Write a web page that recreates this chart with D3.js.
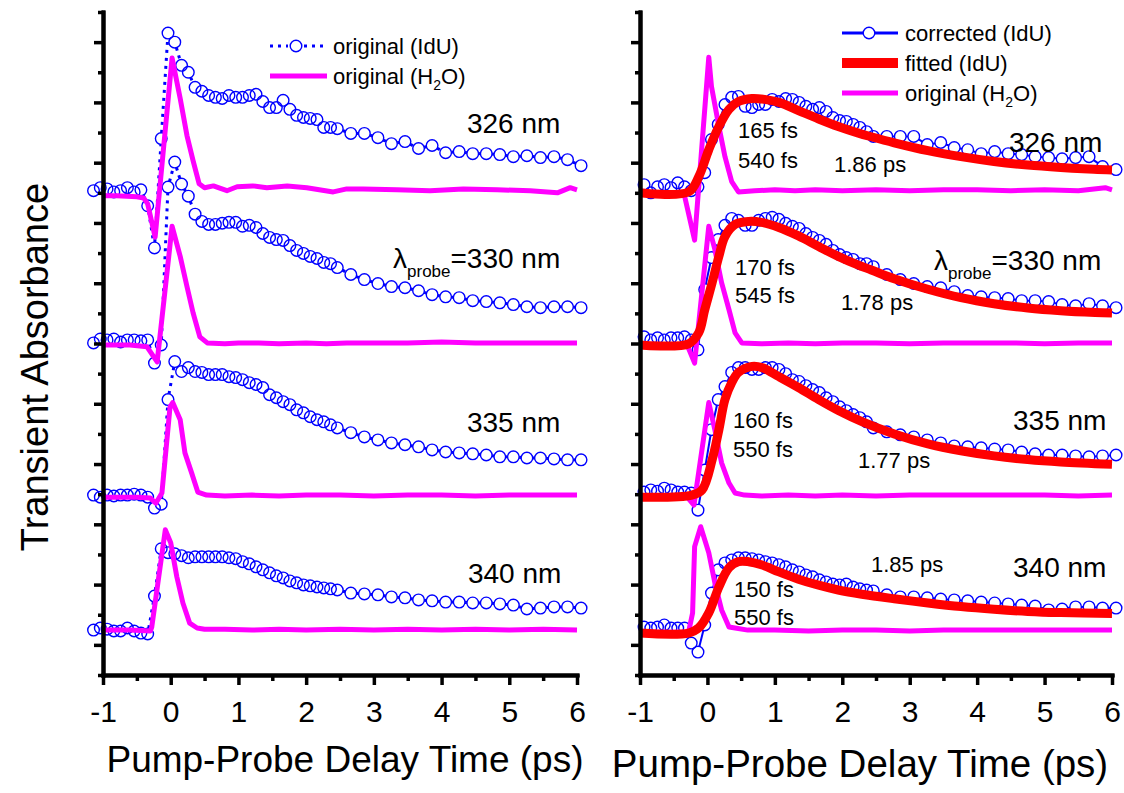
<!DOCTYPE html>
<html>
<head>
<meta charset="utf-8">
<script src="https://cdn.jsdelivr.net/npm/d3@7"></script>
<style>
  body { margin: 0; background: #fff; }
  svg { font-family: "Liberation Sans", Arial, sans-serif; }
</style>
</head>
<body>
<div id="chart"></div>
<script>
// pump-probe delay times (ps) of the IdU data points
const delayTimes = [-1.14, -1.04, -0.94, -0.84, -0.74, -0.64, -0.54, -0.44, -0.34, -0.24,
  -0.14, -0.04, 0.06, 0.16, 0.26, 0.36, 0.46, 0.56, 0.66, 0.76, 0.86, 0.96, 1.06, 1.16, 1.26,
  1.36, 1.46, 1.56, 1.66, 1.76, 1.86, 1.96, 2.06, 2.16, 2.26, 2.36, 2.46,
  2.66, 2.86, 3.06, 3.26, 3.46, 3.66, 3.86, 4.06, 4.26, 4.46, 4.66, 4.86, 5.06, 5.26, 5.46, 5.66, 5.86, 6.06];

const probeLabels = ["326 nm", "330 nm", "335 nm", "340 nm"];
const traceOffsets = [161, 110.2, 59.7, 14.9];
const xTicks = [-1, 0, 1, 2, 3, 4, 5, 6];

// left panel: original IdU signal (same time grid as delayTimes)
const origIdU326 = [-0.3, 0.7, 0.3, -0.7, -0.3, 0.7, -0.7, 0, -5.3, -19.3, 17, 52, 49, 41.3, 39, 34, 32.7, 31.3, 30.7, 30.3, 31.3, 30.7, 30.7, 31.3, 31.7, 29.3, 27.3, 27.3, 29.7, 26.7, 24.7, 24, 23.7, 23.3, 20.7, 20.7, 20.3, 18.7, 18.7, 17.3, 15.3, 16, 13.7, 14.7, 12.3, 12.7, 12, 12, 11.7, 11, 11.3, 10.7, 11, 10, 8];
const origIdU330 = [0, 1.3, 1, 1.3, 0.3, 1, 1, 0.7, 1, -6.7, -0.7, 51.7, 60, 52.7, 48.7, 42.7, 40.3, 39.3, 39.3, 39.7, 40, 40, 38.7, 39, 38.3, 36.3, 35, 34.3, 34, 32.3, 30.7, 29.7, 28.7, 28, 26.7, 26.3, 25, 22.7, 21, 19.7, 18.7, 18.3, 17.3, 16, 15.3, 15, 14, 13.7, 13.3, 12.7, 12, 11.7, 12, 12, 11.7];
const origIdU335 = [0, -0.7, 0, -0.3, 0, 0, 0.3, 0, -0.7, -4.3, -3, 31.7, 44.3, 41, 42.3, 41, 40.7, 40, 40, 40, 39.3, 39, 38.3, 37.3, 36.7, 35.7, 33.3, 32.3, 31, 30, 28.3, 27.3, 26, 25, 24.3, 23.3, 22.3, 20.7, 19.3, 18.3, 17.3, 16.7, 16, 15, 14.3, 14, 13.7, 13.3, 12.7, 12.7, 12.3, 12.3, 12, 11.7, 11.7];
const origIdU340 = [0, 0.7, 0.3, -0.3, -0.3, 0.7, -0.3, -1, -1.3, 11.3, 27, 25.7, 25.3, 24.7, 24, 24.3, 24.3, 24.3, 24.3, 24.3, 24, 23.7, 22.7, 22, 21, 20, 19, 18, 17.3, 16.3, 15.7, 15, 14.7, 14.3, 14, 13.7, 13.3, 12.3, 12, 11.7, 11, 10.7, 10, 9.7, 9.3, 9.3, 9, 9, 8.7, 8.3, 7, 7.3, 7.7, 7.7, 7.3];

// left panel: original H2O signal [time, value]
const h2oLeft326 = [[-1.0, -2], [-0.8, -2], [-0.5, -2.3], [-0.4, -2.7], [-0.34, -4.7], [-0.23, -15.7], [0.02, 43.7], [0.14, 30.3], [0.24, 18], [0.33, 9.7], [0.42, 2], [0.5, 0.7], [0.63, 1.3], [0.83, -0.3], [0.98, 1], [1.21, 1.3], [1.42, 0.7], [1.72, 1.3], [2.01, 0.7], [2.4, -0.7], [2.6, 0.3], [2.84, 0.3], [3.34, 0], [3.83, -0.3], [4.32, 0.3], [4.82, 0], [5.31, -0.3], [5.71, -1], [5.9, 0.7], [6.0, 0]];
const h2oLeft330 = [[-1.0, -0.7], [-0.6, -0.7], [-0.35, -1.3], [-0.2, -6.3], [0.02, 38.7], [0.14, 28.7], [0.24, 18.7], [0.33, 10], [0.43, 2], [0.54, 0], [0.8, -0.3], [1.0, 0], [1.3, 0], [1.6, -0.3], [2.0, 0], [2.3, -0.3], [2.6, 0], [3.0, 0], [3.5, 0], [4.0, 0.3], [4.5, 0], [5.0, 0], [5.5, 0], [6.0, 0]];
const h2oLeft335 = [[-1.0, -0.7], [-0.5, -0.7], [-0.3, -1], [-0.22, -2.7], [-0.13, 0.7], [-0.01, 29.3], [0.03, 30.7], [0.14, 25], [0.21, 14], [0.31, 7.3], [0.4, 1], [0.53, 0], [0.8, -0.3], [1.2, 0], [1.6, -0.3], [2.0, 0], [2.5, 0], [3.0, -0.3], [3.5, 0], [4.0, 0], [4.5, -0.3], [5.0, 0], [5.5, 0], [6.0, 0]];
const h2oLeft340 = [[-1.0, 0], [-0.6, 0], [-0.3, -0.3], [-0.28, 1], [-0.08, 33.3], [0.0, 29], [0.09, 17.7], [0.18, 9], [0.28, 2.3], [0.39, 0.7], [0.5, 0.3], [0.8, 0.3], [1.2, 0], [1.6, 0.3], [2.0, 0], [2.5, 0.3], [3.0, 0], [3.5, 0.3], [4.0, 0], [4.5, 0.3], [5.0, 0], [5.5, 0.3], [6.0, 0]];

// right panel: corrected IdU signal (same time grid)
const corrIdU326 = [null, null, 1.7, -1, 1, 1.7, 0.7, 2.3, 1, -0.3, 1, 5.7, 16.7, 21.7, 28.3, 30.7, 31, 27.7, 27.3, 28.3, 28.3, 30, 29.3, 30.3, 30, 29, 27.7, 26.7, 27.3, 26, 24, 23, 22.7, 21.7, 20.7, 19.3, 17.7, 17.7, 17.7, 17.7, 15, 15.7, 14, 13.3, 12, 12.7, 12, 11.7, 11, 10.7, 10.3, 10.7, 11, 7.7, 6.7];
const corrIdU330 = [null, null, 2, 1, 1.7, 1, 1.7, 1.7, 2, 1, -2.3, 17.7, 28.3, 34.3, 39, 41.3, 40.7, 39, 39, 40.7, 41.3, 41.7, 41, 39.7, 38.7, 38, 36.3, 35, 34, 32.7, 30.7, 29.3, 28.3, 27.7, 26.3, 26.3, 25.3, 22.7, 21, 19.7, 18.7, 18.3, 17, 15.7, 15.3, 15, 14.7, 14, 14, 13.7, 12.7, 12.3, 13, 12.3, 11.7];
const corrIdU335 = [null, null, 1, 1.7, 1.3, 2.3, 1.7, 1, 1, 0.7, -5, 8.3, 21.7, 31.7, 36, 40.7, 42.3, 42.3, 41.7, 41.7, 42.3, 42.3, 41.7, 40.3, 38.3, 37.7, 36.3, 35, 34, 32.3, 31, 29.3, 28, 26.7, 25.7, 24.3, 22.3, 21, 20, 19.3, 18.3, 17.3, 16.3, 16, 15.7, 15.3, 15, 14.3, 13.7, 13.3, 13.3, 13, 12.7, 13, 13.3];
const corrIdU340 = [null, null, 1, 0.7, 1, 1.7, 0.7, 0.7, 0.7, -4.3, -7.3, 1.7, 12.3, 20, 22.3, 23.3, 24, 24, 23.7, 23.3, 22.7, 22.3, 21.7, 21, 20, 19.3, 18.3, 17.7, 16.7, 16, 15.3, 15, 15.3, 14.3, 13.7, 13.3, 13, 11.7, 11, 11, 10.7, 10.3, 10, 9.7, 9.3, 9, 8.7, 8.3, 8, 6.7, 7, 7.7, 7.7, 7.3, 7.3];

// right panel: fitted IdU curves [time, value]
const fitIdU326 = [[-1.0, -1], [-0.28, -0.7], [-0.13, 4.3], [0.02, 13.3], [0.17, 21], [0.32, 26.7], [0.46, 29.3], [0.66, 30.3], [0.85, 30], [1.06, 29], [1.35, 26.3], [1.65, 23.5], [1.94, 21], [2.24, 18.8], [2.43, 17.6], [2.77, 15.6], [3.27, 13], [3.76, 11], [4.25, 9.4], [4.75, 8.2], [5.24, 7.4], [5.73, 6.8], [6.0, 6.6]];
const fitIdU330 = [[-1.0, -0.7], [-0.28, -0.3], [-0.13, 3.3], [-0.04, 11], [0.07, 20], [0.17, 28.7], [0.26, 35.3], [0.41, 39.3], [0.61, 40.3], [0.8, 40], [1.06, 38.3], [1.35, 35.5], [1.65, 32], [1.94, 28.7], [2.24, 25.8], [2.43, 24.2], [2.77, 21.3], [3.27, 17.8], [3.76, 15], [4.25, 13], [4.75, 11.6], [5.24, 10.7], [5.75, 10.1], [6.0, 9.9]];
const fitIdU335 = [[-1.0, -0.7], [-0.23, 0], [-0.08, 1.7], [0.07, 11.7], [0.17, 21.7], [0.26, 31.7], [0.36, 37.3], [0.46, 40.7], [0.66, 42.7], [0.81, 42.3], [1.06, 39.3], [1.35, 35.7], [1.65, 31.7], [1.95, 28], [2.3, 24.3], [2.77, 20.3], [3.27, 17], [3.76, 14.7], [4.25, 13], [4.75, 11.8], [5.24, 11], [6.0, 10.2]];
const fitIdU340 = [[-1.0, -1], [-0.28, -1], [-0.13, 0.7], [0.02, 5.7], [0.17, 14.3], [0.32, 20.7], [0.46, 22.7], [0.61, 22.7], [0.8, 21.7], [1.06, 19.3], [1.35, 16.9], [1.65, 14.9], [1.94, 13.3], [2.29, 11.9], [2.77, 10.4], [3.27, 9], [3.76, 7.8], [4.25, 6.9], [4.75, 6.2], [5.24, 5.8], [6.0, 5.5]];

// right panel: original H2O signal [time, value]
const h2oRight326 = [[-1.0, -1], [-0.35, -1], [-0.19, -16.7], [0.02, 44], [0.06, 34.3], [0.17, 21], [0.26, 11], [0.36, 2.7], [0.46, -0.7], [0.7, -0.3], [1.0, 0], [1.3, -0.3], [1.6, 0], [2.0, -0.3], [2.5, 0], [3.0, -0.3], [3.5, 0], [4.0, 0], [4.5, -0.3], [5.0, 0], [5.5, -0.3], [5.9, 0.7], [6.0, 0]];
const h2oRight330 = [[-1.0, -0.7], [-0.3, -0.7], [-0.19, -6.7], [0.02, 38.7], [0.11, 31], [0.21, 20], [0.32, 11], [0.41, 3.3], [0.51, 0], [0.8, -0.3], [1.2, 0], [1.6, -0.3], [2.0, 0], [2.5, 0], [3.0, -0.3], [3.5, 0], [4.0, 0], [4.5, 0], [5.0, -0.3], [5.5, 0], [6.0, 0]];
const h2oRight335 = [[-1.0, -0.7], [-0.3, -0.7], [-0.2, -3.3], [0.02, 30.7], [0.11, 21.7], [0.21, 10.7], [0.32, 4], [0.41, 0.7], [0.55, 0], [0.8, -0.3], [1.2, 0], [1.6, -0.3], [2.0, 0], [2.5, -0.3], [3.0, 0], [3.5, 0], [4.0, 0], [4.5, 0], [5.0, 0], [5.5, -0.3], [6.0, 0]];
const h2oRight340 = [[-1.0, -0.7], [-0.28, -0.7], [-0.22, 5.7], [-0.19, 27.7], [-0.1, 34.3], [0.02, 25.7], [0.11, 15.7], [0.21, 6.7], [0.32, 1], [0.41, 0.7], [0.6, 0], [1.0, 0], [1.5, -0.3], [2.0, 0], [2.5, 0], [3.0, -0.3], [3.5, 0], [4.0, 0], [4.5, 0], [5.0, 0], [5.5, 0], [6.0, 0]];

// fitted time constants
const tauRise = ["165 fs", "170 fs", "160 fs", "150 fs"];
const tauMid = ["540 fs", "545 fs", "550 fs", "550 fs"];
const tauDecay = ["1.86 ps", "1.78 ps", "1.77 ps", "1.85 ps"];

const origIdU = [origIdU326, origIdU330, origIdU335, origIdU340];
const h2oLeft = [h2oLeft326, h2oLeft330, h2oLeft335, h2oLeft340];
const corrIdU = [corrIdU326, corrIdU330, corrIdU335, corrIdU340];
const fitIdU = [fitIdU326, fitIdU330, fitIdU335, fitIdU340];
const h2oRight = [h2oRight326, h2oRight330, h2oRight335, h2oRight340];

const width = 1124, height = 793;
const blue = "#0000ff", magenta = "#ff00ff", red = "#ff0000";
const symR = 5.8;

const svg = d3.select("#chart").append("svg")
    .attr("width", width)
    .attr("height", height);

const y = d3.scaleLinear().domain([0, 220]).range([675, 12]);
const xLeft = d3.scaleLinear().domain([-1, 6]).range([103, 577]);
const xRight = d3.scaleLinear().domain([-1, 6]).range([640, 1112]);

function points(vals, k) {
    return delayTimes.map((t, i) => [t, vals[i]])
        .filter(d => d[1] != null)
        .map(d => [d[0], d[1] + traceOffsets[k]]);
}

function shifted(pairs, k) {
    return pairs.map(d => [d[0], d[1] + traceOffsets[k]]);
}

// connecting line between symbols, leaving a gap round each circle (Origin style)
function drawGappedLine(pts, x, style) {
    const g = svg.append("g");
    for (let i = 1; i < pts.length; i++) {
        const ax = x(pts[i - 1][0]), ay = y(pts[i - 1][1]);
        const bx = x(pts[i][0]), by = y(pts[i][1]);
        const len = Math.hypot(bx - ax, by - ay);
        if (len <= 2 * symR + 1) continue;
        const ux = (bx - ax) / len, uy = (by - ay) / len;
        g.append("line")
            .attr("x1", ax + ux * symR).attr("y1", ay + uy * symR)
            .attr("x2", bx - ux * symR).attr("y2", by - uy * symR)
            .attr("stroke", blue)
            .attr("stroke-width", style.width)
            .attr("stroke-dasharray", style.dash);
    }
}

function drawCircles(pts, x) {
    svg.append("g").selectAll("circle")
        .data(pts)
        .enter()
        .append("circle")
        .attr("cx", d => x(d[0]))
        .attr("cy", d => y(d[1]))
        .attr("r", symR)
        .attr("fill", "none")
        .attr("stroke", blue)
        .attr("stroke-width", 1.4);
}

function drawAxes(x) {
    const g = svg.append("g");
    const yMinor = d3.axisLeft(y).tickValues(d3.range(0, 221, 20)).tickSize(5).tickFormat("").tickSizeOuter(0);
    const yMajor = d3.axisLeft(y).tickValues(d3.range(10, 220, 20)).tickSize(9).tickFormat("").tickSizeOuter(0);
    const xMinor = d3.axisBottom(x).tickValues(d3.range(-0.5, 6, 1)).tickSize(6).tickFormat("").tickSizeOuter(0);
    const xMajor = d3.axisBottom(x).tickValues(xTicks).tickSize(10).tickFormat(d => String(d)).tickSizeOuter(0);

    const x0 = x.range()[0];
    g.append("g").attr("transform", `translate(${x0},0)`).call(yMinor);
    g.append("g").attr("transform", `translate(${x0},0)`).call(yMajor);
    g.append("g").attr("transform", "translate(0,675)").call(xMinor);
    const xa = g.append("g").attr("transform", "translate(0,675)").call(xMajor);

    g.selectAll(".domain").attr("stroke", "#000").attr("stroke-width", 4).attr("stroke-linecap", "square");
    g.selectAll(".tick line").attr("stroke", "#000").attr("stroke-width", 3.5);
    xa.selectAll(".tick text")
        .attr("y", 47).attr("dy", null)
        .attr("font-size", 30)
        .attr("fill", "#000");
}

function label(x, t, v, str, size) {
    svg.append("text")
        .attr("x", x(t)).attr("y", y(v))
        .attr("font-size", size)
        .attr("fill", "#000")
        .text(str);
}

function probeLabel(x, t, v) {
    const txt = svg.append("text")
        .attr("x", x(t)).attr("y", y(v))
        .attr("font-size", 28).attr("fill", "#000");
    txt.append("tspan").text("\u03bb");
    txt.append("tspan").attr("font-size", 17).attr("dy", 9).text("probe");
    txt.append("tspan").attr("dy", -9).text("=" + probeLabels[1]);
}

// ---------- left panel ----------
const lineL = d3.line().x(d => xLeft(d[0])).y(d => y(d[1]));
origIdU.forEach((vals, k) => {
    const pts = points(vals, k);
    drawGappedLine(pts, xLeft, { width: 3, dash: "3,5" });
    drawCircles(pts, xLeft);
});
h2oLeft.forEach((pairs, k) => {
    svg.append("path")
        .attr("d", lineL(shifted(pairs, k)))
        .attr("fill", "none")
        .attr("stroke", magenta)
        .attr("stroke-width", 5)
        .attr("stroke-linejoin", "round");
});
drawAxes(xLeft);

label(xLeft, 4.375, 179.9, probeLabels[0], 28);
probeLabel(xLeft, 3.283, 135.1);
label(xLeft, 4.375, 80.6, probeLabels[2], 28);
label(xLeft, 4.39, 30.5, probeLabels[3], 28);

// left legend
const legL = svg.append("g");
legL.append("line").attr("x1", 270).attr("x2", 288).attr("y1", 46).attr("y2", 46)
    .attr("stroke", blue).attr("stroke-width", 3).attr("stroke-dasharray", "3,5");
legL.append("line").attr("x1", 304).attr("x2", 327).attr("y1", 46).attr("y2", 46)
    .attr("stroke", blue).attr("stroke-width", 3).attr("stroke-dasharray", "3,5");
legL.append("circle").attr("cx", 296).attr("cy", 46).attr("r", symR)
    .attr("fill", "none").attr("stroke", blue).attr("stroke-width", 1.4);
legL.append("text").attr("x", 333).attr("y", 54).attr("font-size", 22).text("original (IdU)");
legL.append("line").attr("x1", 270).attr("x2", 327).attr("y1", 76).attr("y2", 76)
    .attr("stroke", magenta).attr("stroke-width", 5);
const lt = legL.append("text").attr("x", 333).attr("y", 84).attr("font-size", 22);
lt.append("tspan").text("original (H");
lt.append("tspan").attr("font-size", 14).attr("dy", 6).text("2");
lt.append("tspan").attr("dy", -6).text("O)");

// ---------- right panel ----------
const lineR = d3.line().x(d => xRight(d[0])).y(d => y(d[1]));
const fitLine = d3.line().x(d => xRight(d[0])).y(d => y(d[1])).curve(d3.curveCatmullRom.alpha(0.5));
corrIdU.forEach((vals, k) => {
    const pts = points(vals, k);
    drawGappedLine(pts, xRight, { width: 2, dash: null });
    drawCircles(pts, xRight);
});
h2oRight.forEach((pairs, k) => {
    svg.append("path")
        .attr("d", lineR(shifted(pairs, k)))
        .attr("fill", "none")
        .attr("stroke", magenta)
        .attr("stroke-width", 5)
        .attr("stroke-linejoin", "round");
});
fitIdU.forEach((pairs, k) => {
    svg.append("path")
        .attr("d", fitLine(shifted(pairs, k)))
        .attr("fill", "none")
        .attr("stroke", red)
        .attr("stroke-width", 9);
});
drawAxes(xRight);

label(xRight, 4.472, 173.5, probeLabels[0], 28);
probeLabel(xRight, 3.36, 134.4);
label(xRight, 4.532, 81.3, probeLabels[2], 28);
label(xRight, 4.532, 32.5, probeLabels[3], 28);

// lifetimes
const tauPos = [
    [[0.453, 178.2], [0.453, 168.2], [1.877, 166.9]],
    [[0.409, 132.7], [0.409, 123.4], [1.981, 121.1]],
    [[0.379, 82], [0.379, 72.3], [2.233, 68.7]],
    [[0.394, 25.9], [0.394, 16.6], [2.426, 34.2]]
];
tauPos.forEach((p, k) => {
    label(xRight, p[0][0], p[0][1], tauRise[k], 22);
    label(xRight, p[1][0], p[1][1], tauMid[k], 22);
    label(xRight, p[2][0], p[2][1], tauDecay[k], 22);
});

// right legend
const legR = svg.append("g");
legR.append("line").attr("x1", 842).attr("x2", 863).attr("y1", 33).attr("y2", 33)
    .attr("stroke", blue).attr("stroke-width", 3);
legR.append("line").attr("x1", 875).attr("x2", 898).attr("y1", 33).attr("y2", 33)
    .attr("stroke", blue).attr("stroke-width", 3);
legR.append("circle").attr("cx", 869).attr("cy", 33).attr("r", symR)
    .attr("fill", "none").attr("stroke", blue).attr("stroke-width", 1.4);
legR.append("text").attr("x", 905).attr("y", 41).attr("font-size", 22).text("corrected (IdU)");
legR.append("line").attr("x1", 842).attr("x2", 898).attr("y1", 63).attr("y2", 63)
    .attr("stroke", red).attr("stroke-width", 10);
legR.append("text").attr("x", 905).attr("y", 71).attr("font-size", 22).text("fitted (IdU)");
legR.append("line").attr("x1", 842).attr("x2", 898).attr("y1", 93).attr("y2", 93)
    .attr("stroke", magenta).attr("stroke-width", 5);
const rt = legR.append("text").attr("x", 905).attr("y", 101).attr("font-size", 22);
rt.append("tspan").text("original (H");
rt.append("tspan").attr("font-size", 14).attr("dy", 6).text("2");
rt.append("tspan").attr("dy", -6).text("O)");

// axis titles
svg.append("text")
    .attr("transform", "translate(48,367) rotate(-90)")
    .attr("text-anchor", "middle")
    .attr("font-size", 38)
    .text("Transient Absorbance");
svg.append("text")
    .attr("x", 345).attr("y", 772)
    .attr("text-anchor", "middle")
    .attr("font-size", 37)
    .text("Pump-Probe Delay Time (ps)");
svg.append("text")
    .attr("x", 860).attr("y", 777)
    .attr("text-anchor", "middle")
    .attr("font-size", 38.5)
    .text("Pump-Probe Delay Time (ps)");
</script>
</body>
</html>
